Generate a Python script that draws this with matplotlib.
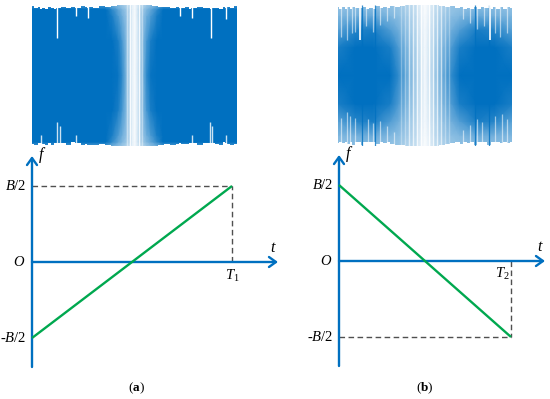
import matplotlib
matplotlib.use('Agg')
import matplotlib.pyplot as plt
from matplotlib.colors import LinearSegmentedColormap
import numpy as np

plt.rcParams['font.family'] = ['Liberation Serif', 'DejaVu Serif']
plt.rcParams['mathtext.fontset'] = 'custom'
plt.rcParams['mathtext.it'] = 'Liberation Serif:italic'
plt.rcParams['mathtext.rm'] = 'Liberation Serif'
plt.rcParams['mathtext.bf'] = 'Liberation Serif:bold'

W, H = 550, 399
BLUE = '#0070c0'
GREEN = '#00a84f'
DASH = '#505050'

# waveform (a): opacity read at time t and amplitude level
shade_a_t = [0, .36, .39, .42, .44, .46, .48, .49, .50, .51, .52, .54, .56, .58, .61, .64, 1]
shade_a_level = [0, .5, .85, .94, 1]
shade_a = [
    [1, 1, 1, .97, .82, .5, .22, .1, .03, .1, .22, .5, .82, .97, 1, 1, 1],
    [1, 1, 1, .9, .72, .48, .22, .1, .03, .1, .22, .48, .72, .9, 1, 1, 1],
    [1, 1, .9, .7, .56, .42, .24, .1, .03, .1, .24, .42, .56, .7, .9, 1, 1],
    [1, 1, .82, .62, .5, .38, .25, .1, .04, .1, .25, .38, .5, .62, .82, 1, 1],
    [.75, .7, .55, .45, .38, .3, .2, .1, .04, .1, .2, .3, .38, .45, .55, .7, .75],
]
wave_a_t = [0, .02, .035, .044, .053, .07, .085, .1, .112, .122,
            .132, .15, .18, .205, .215, .225, .25, .265, .273, .281,
            .31, .34, .37, .40, .43, .46, .50, .54, .57, .60,
            .63, .66, .69, .71, .722, .734, .76, .772, .78, .788,
            .82, .85, .862, .873, .884, .90, .925, .938, .946, .954,
            .975, 1]
wave_a_top = [.98, .96, .97, .95, .96, .95, .97, .96, .95, .96,
              .96, .97, .96, .97, .96, .96, .98, .97, .96, .97,
              .96, .98, .97, .99, 1, 1, 1, 1, 1, .99,
              .97, .97, .96, .97, .96, .96, .97, .95, .96, .96,
              .97, .96, .96, .95, .96, .96, .95, .97, .96, .97,
              .96, .98]
wave_a_bottom = [-.97, -.98, -.96, -.96, -.97, -.98, -.96, -.98, -.96, -.96,
                 -.96, -.96, -.98, -.95, -.96, -.96, -.98, -.97, -.98, -.98,
                 -.99, -.97, -.98, -1, -1, -1, -1, -1, -1, -1,
                 -.99, -.97, -.98, -.97, -.96, -.97, -.97, -.96, -.96, -.96,
                 -.98, -.96, -.96, -.96, -.96, -.97, -.98, -.95, -.96, -.97,
                 -.98, -.97]
notch_a_top_t = [.122, .215, .273, .722, .78, .873, .946]
notch_a_top_y = [.53, .84, .82, .84, .82, .53, .8]
notch_a_bot_t = [.044, .122, .137, .215, .78, .868, .88, .946]
notch_a_bot_y = [-.84, -.66, -.72, -.84, -.84, -.66, -.72, -.84]
stripes_a_t = [.462, .48, .52, .538]
stripes_a_alpha = [.4, .85, .85, .4]

# waveform (b)
shade_b_t = [0, .1, .2, .3, .35, .4, .45, .48, .5, .52, .55, .6, .65, .7, .8, .9, 1]
shade_b_level = [0, .4, .65, .85, 1]
shade_b = [
    [1, 1, 1, 1, .8, .58, .35, .18, .04, .18, .35, .58, .8, 1, 1, 1, 1],
    [.9, 1, 1, .9, .68, .5, .32, .16, .04, .16, .32, .5, .68, .9, 1, 1, .9],
    [.65, .85, .9, .68, .55, .42, .28, .13, .04, .13, .28, .42, .55, .68, .9, .85, .65],
    [.5, .55, .6, .5, .45, .36, .25, .1, .03, .1, .25, .36, .45, .5, .6, .55, .5],
    [.42, .45, .45, .42, .4, .3, .22, .08, .02, .08, .22, .3, .4, .42, .45, .45, .42],
]
wave_b_t = [0, .015, .03, .045, .06, .075, .09, .105, .115, .126,
            .137, .15, .17, .19, .21, .23, .25, .27, .29, .31,
            .34, .37, .40, .44, .47, .50, .53, .56, .60, .63,
            .66, .69, .71, .73, .75, .77, .79, .81, .83, .85,
            .864, .874, .884, .90, .92, .94, .96, .98, 1]
wave_b_top = [.97, .95, .97, .94, .97, .95, .97, .96, .96, .96,
              .96, .97, .95, .96, .95, .98, .96, .97, .96, .98,
              .97, .99, 1, 1, 1, 1, 1, 1, .99, .97,
              .98, .96, .97, .95, .96, .95, .97, .95, .97, .96,
              .96, .96, .95, .97, .95, .97, .95, .97, .96]
wave_b_bottom = [-.96, -.95, -.96, -.95, -.97, -.95, -.98, -.95, -.95, -.95,
                 -.98, -.95, -.95, -.95, -.95, -.97, -.95, -.96, -.95, -.97,
                 -.98, -.99, -1, -1, -1, -1, -1, -1, -.99, -.97,
                 -.96, -.95, -.97, -.95, -.96, -.95, -.98, -.95, -.95, -.95,
                 -.98, -.98, -.95, -.95, -.95, -.96, -.95, -.96, -.95]
notch_b_top_t = [.126, .874]
notch_b_top_y = [.5, .5]
stripes_b_t = [.36, .385, .408, .431, .454, .477, .523, .546, .569, .592, .615, .64]
stripes_b_alpha = [.3, .35, .6, .7, .8, .9, .9, .8, .7, .6, .35, .3]
dark_b_t = [.138, .213, .79, .87]

# light strokes in the fringe of (b), top edge and bottom edge
fringe_top_t = [.02, .05, .08, .1, .16, .2, .24, .28, .32, .72, .76, .8, .84, .9, .93, .97]
fringe_top_y = [.55, .5, .6, .62, .7, .62, .72, .78, .82, .8, .74, .66, .7, .6, .55, .6]
fringe_bot_t = [.02, .05, .07, .1, .17, .2, .24, .28, .32, .72, .76, .8, .83, .9, .94, .97]
fringe_bot_y = [-.6, -.52, -.58, -.6, -.62, -.68, -.65, -.72, -.8, -.78, -.7, -.62, -.66, -.58, -.55, -.62]

# frequency ramps
ramp_a_t = [0, 1]
ramp_a_f = [-1, 1]
ramp_b_t = [0, 1]
ramp_b_f = [1, -1]

cmap = LinearSegmentedColormap.from_list('wave', ['#ffffff', BLUE])
fig = plt.figure(figsize=(W / 100, H / 100), dpi=100)


def pixel_axes(x0, y0, x1, y1):
    """Axes placed by its box in picture pixels, y counted from the top"""
    ax = fig.add_axes([x0 / W, 1 - y1 / H, (x1 - x0) / W, (y1 - y0) / H])
    ax.axis('off')
    return ax


def draw_wave(box, t, level, shade, env_t, top, bottom, stripes, alphas):
    ax = pixel_axes(*box)
    grid = np.array(shade)
    ax.pcolormesh(t, list(-np.array(level[:0:-1])) + list(level),
                  np.vstack([grid[:0:-1], grid]), shading='gouraud',
                  cmap=cmap, vmin=0, vmax=1)
    for s, a in zip(stripes, alphas):
        ax.axvline(s, color='white', lw=1.0, alpha=a)
    ax.fill_between(env_t, top, 1.05, color='white', lw=0, step='mid')
    ax.fill_between(env_t, bottom, -1.05, color='white', lw=0, step='mid')
    ax.set_xlim(0, 1)
    ax.set_ylim(-1, 1)
    return ax


def draw_ramp(x0_px, x1_px, t, f, xtip_px, bottom_px, top_px, zero_px, tick_label, label_below):
    # t=0 at x0_px, t=1 at x1_px, f=+-1 at 76 px from zero_px
    sx = x1_px - x0_px
    ax = pixel_axes(0, 150, W, 380)
    ax.set_xlim(-x0_px / sx, (W - x0_px) / sx)
    ax.set_ylim((zero_px - 380) / 76, (zero_px - 150) / 76)
    tip = (xtip_px - x0_px) / sx
    low = (zero_px - bottom_px) / 76
    high = (zero_px - top_px) / 76
    style = dict(arrowstyle='->,head_length=0.42,head_width=0.3', color=BLUE, lw=1.7,
                 shrinkA=0, shrinkB=0, mutation_scale=12)
    ax.annotate('', xy=(0, high), xytext=(0, low), arrowprops=style)
    ax.annotate('', xy=(tip, 0), xytext=(0, 0), arrowprops=style)
    ax.plot(t, f, color=GREEN, lw=1.7, solid_capstyle='butt', zorder=3)
    end = f[-1]
    ax.plot([0, 1], [end, end], color=DASH, lw=1.0, dashes=(4, 2.5), zorder=1)
    ax.plot([1, 1], [0, end], color=DASH, lw=1.0, dashes=(4, 2.5), zorder=1)
    fs = 10.5
    ax.text(-6 / sx, 1, '$B/2$', ha='right', va='center', fontsize=fs)
    ax.text(-6 / sx, -1, '-$B/2$', ha='right', va='center', fontsize=fs)
    ax.text(-7 / sx, 0, '$O$', ha='right', va='center', fontsize=fs)
    ax.text(tip - 5 / sx, 14 / 76, '$t$', ha='center', va='center', fontsize=fs + 1)
    ax.text(10 / sx, high + 1 / 76, '$f$', ha='center', va='center', fontsize=fs + 1)
    if label_below:
        ax.text(1, -14 / 76, tick_label, ha='center', va='center', fontsize=fs)
    else:
        ax.text(1 - 9 / sx, -13 / 76, tick_label, ha='center', va='center', fontsize=fs)
    return ax


ax_a = draw_wave((32, 5, 237, 146), shade_a_t, shade_a_level, shade_a,
                 wave_a_t, wave_a_top, wave_a_bottom, stripes_a_t, stripes_a_alpha)
ax_a.vlines(notch_a_top_t, notch_a_top_y, 1, color='white', lw=1.0)
ax_a.vlines(notch_a_bot_t, -1, notch_a_bot_y, color='white', lw=1.0, alpha=0.8)

ax_b = draw_wave((338, 5, 512, 146), shade_b_t, shade_b_level, shade_b,
                 wave_b_t, wave_b_top, wave_b_bottom, stripes_b_t, stripes_b_alpha)
ax_b.vlines(dark_b_t, -1, 1, color=BLUE, lw=0.9, alpha=0.8)
ax_b.vlines(fringe_top_t, fringe_top_y, 1, color='white', lw=0.9, alpha=0.55)
ax_b.vlines(fringe_bot_t, -1, fringe_bot_y, color='white', lw=0.9, alpha=0.55)
ax_b.vlines(notch_b_top_t, notch_b_top_y, 1, color='white', lw=1.2)

draw_ramp(32, 232, ramp_a_t, ramp_a_f, 278, 367, 156, 262, r'$T_{\mathit{1}}$', True)
draw_ramp(339, 511, ramp_b_t, ramp_b_f, 545, 366, 155, 261, r'$T_{\mathit{2}}$', False)

fig.text(136 / W, 1 - 388 / H, r'($\mathbf{a}$)', ha='center', va='center', fontsize=9.5)
fig.text(425 / W, 1 - 388 / H, r'($\mathbf{b}$)', ha='center', va='center', fontsize=9.5)

fig.savefig('out.png', dpi=100)
